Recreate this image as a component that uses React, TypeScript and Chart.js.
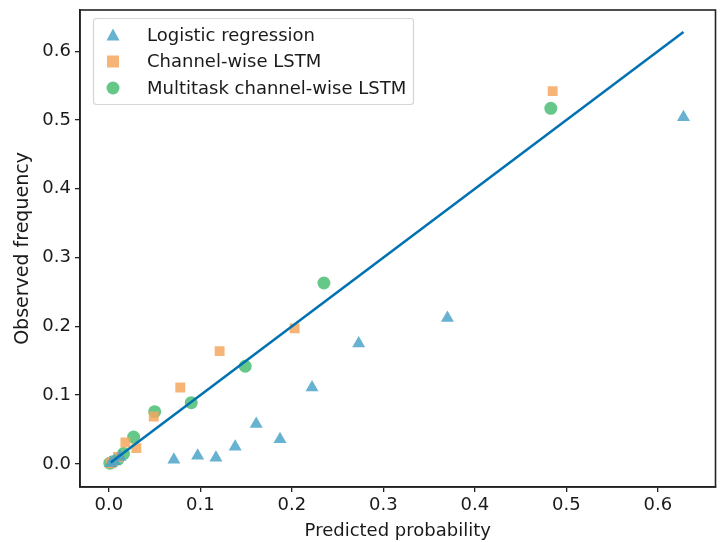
import React, { useEffect, useRef } from "react";
import { Chart, registerables } from "chart.js";

Chart.register(...registerables);

const xTicks = [0, 0.1, 0.2, 0.3, 0.4, 0.5, 0.6];
const yTicks = [0, 0.1, 0.2, 0.3, 0.4, 0.5, 0.6];

const logisticX = [0.002, 0.006, 0.012, 0.071, 0.097, 0.117, 0.138, 0.161, 0.187, 0.222, 0.273, 0.37, 0.628];
const logisticY = [0.001, 0.004, 0.01, 0.006, 0.012, 0.009, 0.025, 0.058, 0.036, 0.111, 0.175, 0.212, 0.504];

const channelX = [0.002, 0.004, 0.01, 0.018, 0.03, 0.049, 0.078, 0.121, 0.203, 0.485];
const channelY = [0.001, 0.003, 0.01, 0.031, 0.023, 0.069, 0.111, 0.164, 0.197, 0.542];

const multiX = [0.001, 0.004, 0.01, 0.016, 0.027, 0.05, 0.09, 0.149, 0.235, 0.483];
const multiY = [0.001, 0.003, 0.007, 0.015, 0.039, 0.076, 0.089, 0.142, 0.263, 0.517];

const idealX = [0.002, 0.628];

const names = ["Logistic regression", "Channel-wise LSTM", "Multitask channel-wise LSTM"];
const colors = ["rgba(75,165,200,0.85)", "rgba(245,168,95,0.85)", "rgba(75,190,115,0.85)"];
const styles = ["triangle", "rect", "circle"];

const FONT = "'DejaVu Sans', sans-serif";
const TXT = "#1a1a1a";

const pts = (xs: number[], ys: number[]) => xs.map((x, i) => ({ x, y: ys[i] }));

const framePlugin = {
  id: "frame",
  afterDraw(chart: any) {
    const { ctx, chartArea: a } = chart;
    ctx.save();
    ctx.strokeStyle = "#222";
    ctx.lineWidth = 1.6;
    ctx.strokeRect(a.left, a.top, a.right - a.left, a.bottom - a.top);
    // legend
    const bx = 93, by = 18, bw = 320, bh = 86;
    ctx.fillStyle = "rgba(255,255,255,0.8)";
    ctx.strokeStyle = "#d6d6d6";
    ctx.lineWidth = 1.2;
    ctx.beginPath();
    (ctx as any).roundRect ? (ctx as any).roundRect(bx + 0.5, by + 0.5, bw, bh, 3) : ctx.rect(bx + 0.5, by + 0.5, bw, bh);
    ctx.fill();
    ctx.stroke();
    ctx.font = `18px ${FONT}`;
    ctx.textBaseline = "middle";
    ctx.textAlign = "left";
    for (let i = 0; i < names.length; i++) {
      const cy = by + 17 + i * 26.5;
      const cx = 113;
      ctx.fillStyle = colors[i];
      ctx.beginPath();
      if (styles[i] === "triangle") {
        ctx.moveTo(cx, cy - 6.5);
        ctx.lineTo(cx + 6.5, cy + 5.5);
        ctx.lineTo(cx - 6.5, cy + 5.5);
        ctx.closePath();
      } else if (styles[i] === "rect") {
        ctx.rect(cx - 6, cy - 6, 12, 12);
      } else {
        ctx.arc(cx, cy, 6.5, 0, Math.PI * 2);
      }
      ctx.fill();
      ctx.fillStyle = TXT;
      ctx.fillText(names[i], 147, cy + 1);
    }
    ctx.restore();
  },
};

export default function App() {
  const ref = useRef<HTMLCanvasElement>(null);
  useEffect(() => {
    document.body.style.margin = "0";
    const canvas = ref.current!;
    const scatter = (i: number, data: any[]) => ({
      type: "scatter" as const,
      label: names[i],
      data,
      backgroundColor: colors[i],
      borderColor: "rgba(0,0,0,0)",
      borderWidth: 0,
      pointStyle: styles[i],
      pointRadius: styles[i] === "circle" ? 6.5 : styles[i] === "rect" ? 7 : 7.5,
      order: 1,
    });
    const chart = new Chart(canvas, {
      type: "scatter",
      data: {
        datasets: [
          {
            type: "line",
            label: "ideal",
            data: pts(idealX, idealX),
            borderColor: "#0072B2",
            borderWidth: 2.5,
            pointRadius: 0,
            fill: false,
            order: 0,
          } as any,
          scatter(0, pts(logisticX, logisticY)),
          scatter(1, pts(channelX, channelY)),
          scatter(2, pts(multiX, multiY)),
        ],
      },
      options: {
        animation: false,
        responsive: false,
        maintainAspectRatio: false,
        layout: { padding: { top: 10, right: 0, left: 0, bottom: 0 } },
        plugins: { legend: { display: false }, tooltip: { enabled: false } },
        scales: {
          x: {
            type: "linear",
            min: -0.0316,
            max: 0.663,
            afterBuildTicks: (s: any) => {
              s.ticks = xTicks.map((v) => ({ value: v }));
            },
            afterFit: (s: any) => {
              s.height = 55;
              s.paddingLeft = 0;
              s.paddingRight = 0;
            },
            ticks: {
              callback: (v: any) => Number(v).toFixed(1),
              color: TXT,
              font: { family: FONT, size: 18 },
              padding: 3,
              maxRotation: 0,
            },
            grid: { drawOnChartArea: false, drawTicks: true, tickLength: 5, color: "#222", lineWidth: 1.3 },
            border: { display: true, color: "#222", width: 1.6 },
            title: {
              display: true,
              text: "Predicted probability",
              color: TXT,
              font: { family: FONT, size: 18 },
              padding: { top: 0, bottom: 0 },
            },
          },
          y: {
            type: "linear",
            min: -0.0336,
            max: 0.66,
            afterBuildTicks: (s: any) => {
              s.ticks = yTicks.map((v) => ({ value: v }));
            },
            afterFit: (s: any) => {
              s.width = 80;
              s.paddingTop = 0;
              s.paddingBottom = 0;
            },
            ticks: {
              callback: (v: any) => Number(v).toFixed(1),
              color: TXT,
              font: { family: FONT, size: 18 },
              padding: 4,
            },
            grid: { drawOnChartArea: false, drawTicks: true, tickLength: 5, color: "#222", lineWidth: 1.3 },
            border: { display: true, color: "#222", width: 1.6 },
            title: {
              display: true,
              text: "Observed frequency",
              color: TXT,
              font: { family: FONT, size: 19 },
              padding: { top: 12, bottom: 0 },
            },
          },
        },
      },
      plugins: [framePlugin],
    });
    return () => chart.destroy();
  }, []);
  return <canvas ref={ref} width={723} height={542} style={{ display: "block" }} />;
}
